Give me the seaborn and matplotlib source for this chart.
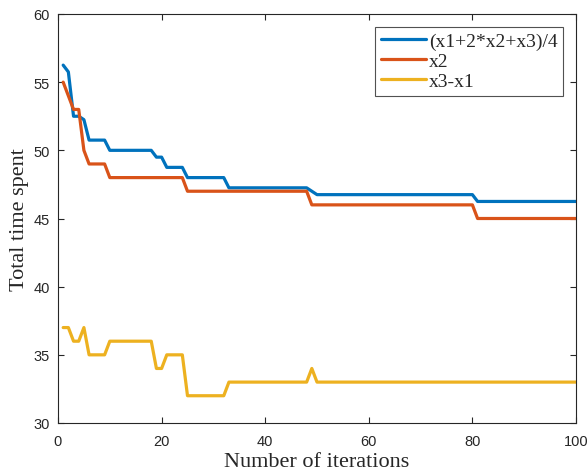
import numpy as np
import pandas as pd
import matplotlib
matplotlib.use("Agg")
import matplotlib.pyplot as plt
import seaborn as sns

iterations = list(range(1, 101))

series_names = ["(x1+2*x2+x3)/4", "x2", "x3-x1"]

avg_values = ([56.25, 55.75, 52.5, 52.5, 52.25]
              + [50.75, 50.75, 50.75, 50.75]
              + [50, 50, 50, 50, 50, 50, 50, 50, 50]
              + [49.5, 49.5]
              + [48.75, 48.75, 48.75, 48.75]
              + [48, 48, 48, 48, 48, 48, 48, 48]
              + [47.25, 47.25, 47.25, 47.25, 47.25, 47.25, 47.25, 47.25,
                 47.25, 47.25, 47.25, 47.25, 47.25, 47.25, 47.25, 47.25]
              + [47.0]
              + [46.75] * 31
              + [46.25] * 20)

x2_values = ([55, 54, 53, 53, 50]
             + [49, 49, 49, 49]
             + [48] * 15
             + [47] * 24
             + [46] * 32
             + [45] * 20)

x3x1_values = ([37, 37, 36, 36, 37]
               + [35, 35, 35, 35]
               + [36] * 9
               + [34, 34]
               + [35, 35, 35, 35]
               + [32] * 8
               + [33] * 16
               + [34]
               + [33] * 51)

colors = ["#0072BD", "#D95319", "#EDB120"]

df = pd.DataFrame({
    "iter": iterations * 3,
    "value": avg_values + x2_values + x3x1_values,
    "series": [series_names[0]] * 100 + [series_names[1]] * 100 + [series_names[2]] * 100,
})

sns.set_style("white")
plt.rcParams["font.family"] = ["Liberation Serif", "DejaVu Serif"]

fig = plt.figure(figsize=(5.88, 4.77), dpi=100)
ax = fig.add_axes([58 / 588, 1 - 424 / 477, (576 - 58) / 588, (424 - 15) / 477])

sns.lineplot(data=df, x="iter", y="value", hue="series", palette=colors,
             linewidth=2.3, ax=ax, legend=True)

ax.set_xlim(0, 100)
ax.set_ylim(30, 60)
ax.set_xticks(range(0, 101, 20))
ax.set_yticks(range(30, 61, 5))
ax.set_xlabel("Number of iterations", fontsize=16, labelpad=3)
ax.set_ylabel("Total time spent", fontsize=16, labelpad=3)
ax.tick_params(axis="both", direction="in", length=4, width=0.8,
               top=True, right=True, bottom=True, left=True, colors="#262626")
ax.tick_params(axis="x", pad=8)
ax.tick_params(axis="y", pad=6)
for lab in ax.get_xticklabels() + ax.get_yticklabels():
    lab.set_fontfamily(["Liberation Sans", "DejaVu Sans"])
    lab.set_fontsize(10.5)
for s in ax.spines.values():
    s.set_color("#262626")
    s.set_linewidth(0.8)

leg = ax.legend(loc="upper right", fontsize=14, frameon=True, fancybox=False,
                edgecolor="#262626", handlelength=2.3, handletextpad=0.15,
                borderpad=0.3, labelspacing=0.12, borderaxespad=0.65)
leg.get_frame().set_linewidth(0.8)

fig.savefig("out.png", dpi=100)
